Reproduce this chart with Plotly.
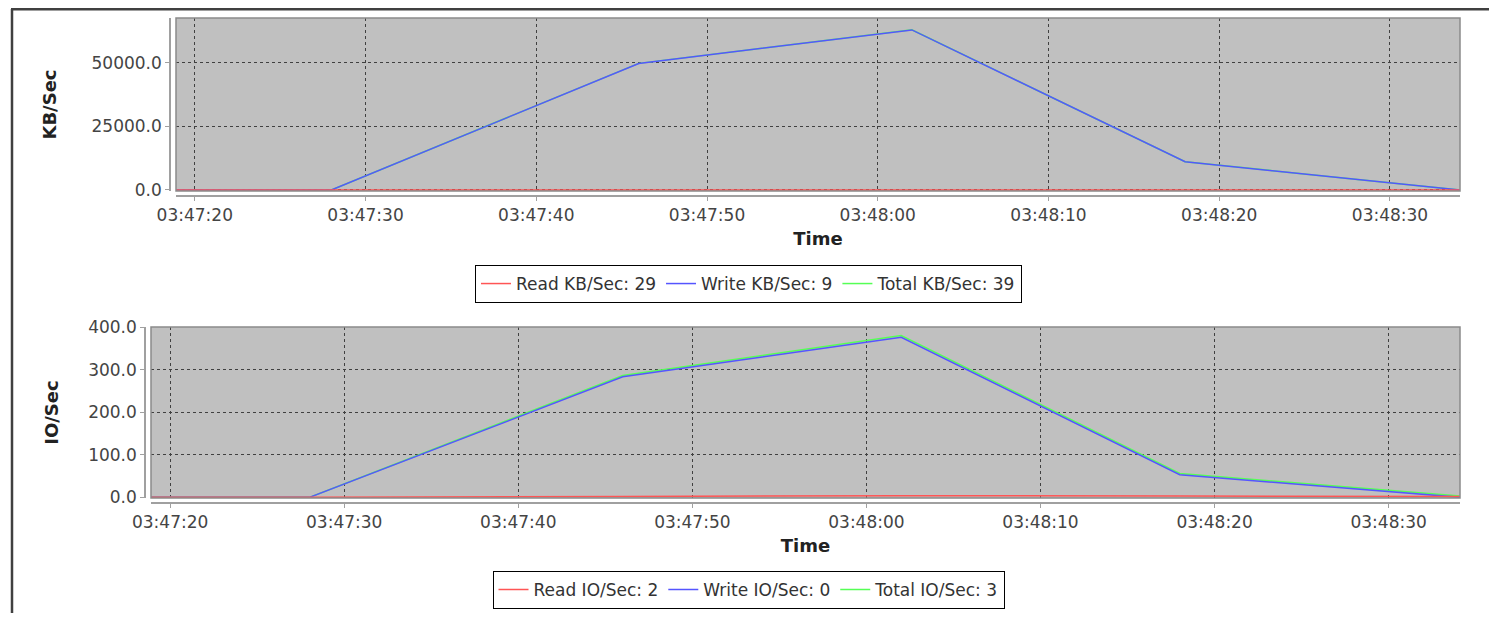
import plotly.graph_objects as go

DAY = "2013-05-14 "
times = ["03:47:18.9", "03:47:28", "03:47:46", "03:48:02", "03:48:18", "03:48:34.1"]

read_kb = [0, 0, 35, 50, 31, 29]
write_kb = [0, 0, 49800, 63000, 11100, 9]
total_kb = [0, 0, 49835, 63050, 11131, 39]

read_io = [0, 0, 2, 4, 3, 2]
write_io = [0, 0, 283, 376, 53, 0]
total_io = [0, 0, 286, 380, 56, 3]

kb_names = ["Read KB/Sec: 29", "Write KB/Sec: 9", "Total KB/Sec: 39"]
io_names = ["Read IO/Sec: 2", "Write IO/Sec: 0", "Total IO/Sec: 3"]
colors = ["#FF5555", "#5555FF", "#55FF55"]

x_range = [DAY + "03:47:18.9", DAY + "03:48:34.1"]
xt = [DAY + t for t in times]

# page body keeps its default 8px margin, so the figure is 16px smaller
OFF = 8
W, H = 1497 - 2 * OFF, 621 - 2 * OFF
def px(v):
    return (v - OFF) / W
def py(v):
    return 1 - (v - OFF) / H

FONT = "DejaVu Sans"
fig = go.Figure()

# draw order: total, write, read (read on top); legend order read, write, total
for series, names, xa, ya, leg in [
    ((read_kb, write_kb, total_kb), kb_names, "x", "y", "legend"),
    ((read_io, write_io, total_io), io_names, "x2", "y2", "legend2"),
]:
    for i in [2, 1, 0]:
        fig.add_trace(go.Scatter(
            x=xt, y=series[i], mode="lines", name=names[i],
            line=dict(color=colors[i], width=1.5),
            xaxis=xa, yaxis=ya, legend=leg, legendrank=i + 1,
        ))

axis_common = dict(
    showline=True, linecolor="#a0a0a0", linewidth=1.5,
    ticks="outside", ticklen=4, tickcolor="#a0a0a0",
    tickfont=dict(family=FONT, size=17, color="#444444"),
    gridcolor="#404040", griddash="3px,3px", gridwidth=1,
    zeroline=False, automargin=False,
)

xcommon = dict(axis_common, type="date", tickformat="%H:%M:%S", dtick=10000,
               tick0=DAY + "03:47:20", range=x_range,
               title=dict(text="<b>Time</b>", font=dict(family=FONT, size=18, color="#222222"), standoff=7))

fig.update_layout(
    width=W, height=H,
    margin=dict(l=0, r=0, t=0, b=0, autoexpand=False),
    paper_bgcolor="white",
    plot_bgcolor="#C0C0C0",
    showlegend=True,
    xaxis=dict(xcommon, domain=[px(176), px(1460)], anchor="free", position=py(196)),
    yaxis=dict(axis_common, domain=[py(191), py(18)], anchor="free", position=px(170),
               range=[-400, 67700], tickvals=[0, 25000, 50000], tickformat=".1f",
               title=dict(text="<b>KB/Sec</b>", font=dict(family=FONT, size=18, color="#222222"), standoff=29)),
    xaxis2=dict(xcommon, domain=[px(151), px(1460)], anchor="free", position=py(503)),
    yaxis2=dict(axis_common, domain=[py(498), py(327)], anchor="free", position=px(145),
                range=[-1.5, 400], dtick=100, tickformat=".1f",
                title=dict(text="<b>IO/Sec</b>", font=dict(family=FONT, size=18, color="#222222"), standoff=24)),
    legend=dict(orientation="h", x=0.5, xanchor="center", y=py(265), yanchor="top",
                bordercolor="#000000", borderwidth=1, bgcolor="white",
                font=dict(family=FONT, size=17, color="#333333"), itemwidth=30,
                traceorder="normal"),
    legend2=dict(orientation="h", x=0.5, xanchor="center", y=py(571), yanchor="top",
                 bordercolor="#000000", borderwidth=1, bgcolor="white",
                 font=dict(family=FONT, size=17, color="#333333"), itemwidth=30,
                 traceorder="normal"),
    shapes=[
        dict(type="line", xref="paper", yref="paper", x0=px(12), x1=px(12), y0=py(9), y1=0,
             line=dict(color="#404040", width=2.5)),
        dict(type="line", xref="paper", yref="paper", x0=px(11), x1=1, y0=py(9.2), y1=py(9.2),
             line=dict(color="#404040", width=2.5)),
        dict(type="rect", xref="paper", yref="paper", x0=px(176), x1=px(1460), y0=py(191), y1=py(18),
             line=dict(color="#8a8a8a", width=1.5)),
        dict(type="rect", xref="paper", yref="paper", x0=px(151), x1=px(1460), y0=py(498), y1=py(327),
             line=dict(color="#8a8a8a", width=1.5)),
    ],
)

fig.write_html("out.html")
